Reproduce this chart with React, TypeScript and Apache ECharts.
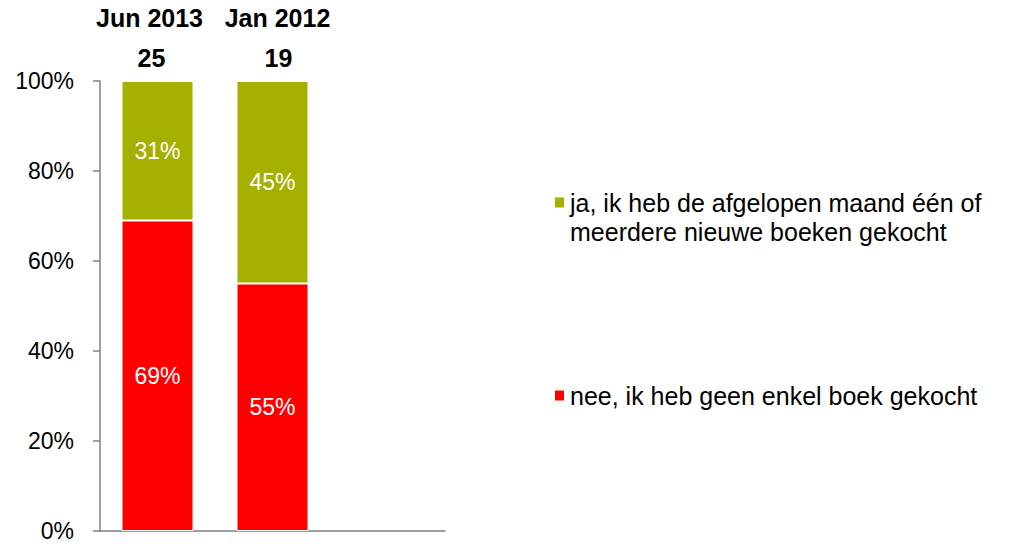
import React, { useEffect, useRef } from "react";
import * as echarts from "echarts";

const categories = ["Jun 2013", "Jan 2012", ""];
const counts = ["25", "19", ""];
const neeValues = [69, 55, null];
const jaValues = [31, 45, null];
const seriesNames = [
  "ja, ik heb de afgelopen maand één of meerdere nieuwe boeken gekocht",
  "nee, ik heb geen enkel boek gekocht",
];
const legendLines = [
  ["ja, ik heb de afgelopen maand één of", "meerdere nieuwe boeken gekocht"],
  ["nee, ik heb geen enkel boek gekocht"],
];
const yTicks = [0, 20, 40, 60, 80, 100];

const FONT = "'Liberation Sans', Arial, sans-serif";

export default function App() {
  const ref = useRef<HTMLDivElement>(null);
  useEffect(() => {
    if (!ref.current) return;
    const chart = echarts.init(ref.current, undefined, { renderer: "svg" });
    const labelStyle = {
      show: true,
      position: "inside",
      color: "#ffffff",
      fontSize: 23,
      fontFamily: FONT,
      formatter: (p: any) => p.value + "%",
    };
    const topRich: any = {};
    const shifts = [[0, 16], [10, 0]];
    const shiftsB = [[0, 12], [12, 0]];
    [0, 1].forEach((i) => {
      topRich["a" + i] = {
        fontSize: 25, fontWeight: "bold", color: "#000", fontFamily: FONT, lineHeight: 40,
        padding: [0, shifts[i][1], 0, shifts[i][0]],
      };
      topRich["b" + i] = {
        fontSize: 25, fontWeight: "bold", color: "#000", fontFamily: FONT, lineHeight: 40,
        padding: [0, shiftsB[i][1], 0, shiftsB[i][0]],
      };
    });
    chart.setOption({
      animation: false,
      backgroundColor: "#ffffff",
      textStyle: { fontFamily: FONT },
      grid: { left: 100, right: 576, top: 81, bottom: 15, containLabel: false },
      legend: [
        {
          data: [seriesNames[0]],
          left: 553,
          top: 159,
          padding: 0,
          orient: "vertical",
          itemWidth: 11,
          itemHeight: 12,
          icon: "rect",
          itemGap: 0,
          selectedMode: false,
          formatter: () => " \n" + legendLines[0].join("\n"),
          textStyle: { fontSize: 25, color: "#000", fontFamily: FONT, lineHeight: 29 },
        },
        {
          data: [seriesNames[1]],
          left: 553,
          top: 381,
          padding: 0,
          orient: "vertical",
          itemWidth: 11,
          itemHeight: 12,
          icon: "rect",
          selectedMode: false,
          formatter: () => legendLines[1].join("\n"),
          textStyle: { fontSize: 25, color: "#000", fontFamily: FONT, lineHeight: 29 },
        },
      ],
      xAxis: [
        {
          type: "category",
          data: categories,
          position: "bottom",
          axisLine: { show: true, lineStyle: { color: "#808080", width: 1.5 } },
          axisTick: { show: false },
          axisLabel: { show: false },
        },
        {
          type: "category",
          data: categories,
          position: "top",
          axisLine: { show: false },
          axisTick: { show: false },
          axisLabel: {
            show: true,
            interval: 0,
            hideOverlap: false,
            margin: 3,
            formatter: (v: string, i: number) =>
              v ? "{a" + i + "|" + v + "}\n{b" + i + "|" + counts[i] + "}" : "",
            rich: topRich,
          },
        },
      ],
      yAxis: {
        type: "value",
        min: 0,
        max: 100,
        interval: 20,
        axisLine: { show: true, lineStyle: { color: "#808080", width: 1.5 } },
        axisTick: { show: true, length: 7, lineStyle: { color: "#808080", width: 1.5 } },
        splitLine: { show: false },
        axisLabel: {
          fontSize: 23,
          color: "#000",
          fontFamily: FONT,
          margin: 26,
          formatter: (v: number) => (yTicks.includes(v) ? v + "%" : ""),
        },
      },
      series: [
        {
          name: seriesNames[1],
          type: "bar",
          stack: "total",
          data: neeValues,
          barWidth: 72,
          itemStyle: { color: "#ff0000", borderColor: "#ffffff", borderWidth: 1 },
          label: labelStyle,
        },
        {
          name: seriesNames[0],
          type: "bar",
          stack: "total",
          data: jaValues,
          barWidth: 72,
          itemStyle: { color: "#a5b000", borderColor: "#ffffff", borderWidth: 1 },
          label: labelStyle,
        },
      ],
    });
    return () => chart.dispose();
  }, []);
  return <div ref={ref} style={{ width: 1021, height: 546, position: "absolute", left: 0, top: 0 }} />;
}
